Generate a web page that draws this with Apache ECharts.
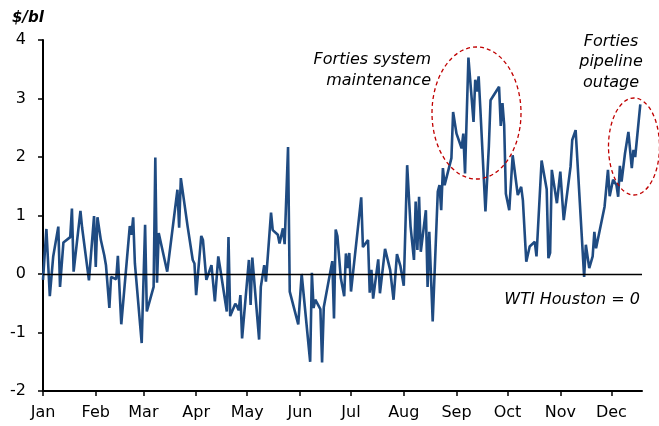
<!DOCTYPE html>
<html>
<head>
<meta charset="utf-8">
<script src="https://cdn.jsdelivr.net/npm/echarts@6/dist/echarts.min.js"></script>
<style>
  html, body { margin: 0; padding: 0; background: #fff; }
  #chart { width: 659px; height: 426px; }
</style>
</head>
<body>
<div id="chart"></div>
<script>
const monthLabels = ['Jan', 'Feb', 'Mar', 'Apr', 'May', 'Jun', 'Jul', 'Aug', 'Sep', 'Oct', 'Nov', 'Dec']
const yMin = -2
const yMax = 4
const lastDay = 352

// day offset from 1 Jan, and the Brent-WTI Houston spread ($/bl) on that day
const days = [
  0, 2, 4, 5, 6, 9, 10, 12, 16, 17, 18, 22, 23, 24, 27, 30,
  31, 32, 34, 36, 37, 38, 39, 40, 43, 44, 46, 51, 52, 53, 54, 58,
  60, 61, 65, 66, 67, 68, 73, 79, 80, 81, 85, 86, 88, 89,
  90, 93, 94, 96, 99, 100, 101, 103, 104, 108, 109, 110, 113, 114, 115, 116, 117,
  121, 122, 123, 127, 128, 129, 130, 131, 134, 135, 138, 139, 141, 142, 144, 145, 150,
  151, 152, 157, 158, 159, 160, 163, 164, 165, 166, 170, 171, 172, 173, 175, 177, 178, 179, 180,
  181, 187, 188, 191, 192, 193, 194, 197, 198, 201, 204, 206, 208, 210,
  212, 214, 216, 218, 219, 220, 221, 222, 225, 226, 227, 229, 232, 233, 234, 235, 236, 238, 240, 241,
  243, 246, 247, 248, 250, 253, 254, 255, 256, 257, 260, 262, 263, 268, 269, 270,
  271, 272, 274, 276, 277, 279, 281, 282, 284, 286, 289, 290, 293, 296, 297, 298, 299, 302,
  304, 306, 310, 311, 312, 313, 318, 319, 320, 321, 323, 324, 325, 330, 332, 333,
  335, 337, 338, 339, 340, 342, 344, 346, 347, 348, 351
]
const spread = [
  -0.1, 0.77, -0.38, -0.38, 0.3, 0.81, -0.22, 0.54, 0.63, 1.12, 0.04, 1.08, 0.79, 0.79, -0.11, 0.99,
  0.12, 0.97, 0.58, 0.32, 0.15, 0.15, -0.58, -0.05, -0.09, 0.31, -0.86, 0.82, 0.67, 0.97, 0.18, -1.18,
  0.84, -0.64, -0.22, 1.99, -0.15, 0.7, 0.04, 1.44, 0.79, 1.64, 0.81, 0.79, 0.24, 0.18,
  -0.36, 0.65, 0.58, -0.1, 0.15, 0.15, -0.47, 0.3, 0.12, -0.64, 0.63, -0.72, -0.51, -0.55, -0.62, -0.36, -1.1,
  0.24, -0.53, 0.28, -1.12, -0.22, -0.2, 0.15, -0.13, 1.05, 0.75, 0.67, 0.52, 0.78, 0.51, 2.17, -0.3, -0.86,
  -0.83, 0.0, -1.5, 0.02, -0.58, -0.44, -0.6, -1.51, -0.57, -0.55, 0.22, -0.76, 0.76, 0.65, -0.07, -0.38, 0.35, 0.1, 0.36,
  -0.3, 1.31, 0.46, 0.58, -0.32, 0.07, -0.42, 0.25, -0.33, 0.43, 0.07, -0.44, 0.34, 0.14,
  -0.2, 1.86, 0.81, 0.24, 1.24, 0.41, 1.32, 0.38, 1.09, -0.22, 0.72, -0.81, 1.41, 1.52, 1.09, 1.81, 1.52, 1.75, 1.98, 2.77,
  2.4, 2.15, 2.4, 1.72, 3.7, 2.6, 3.32, 3.12, 3.38, 2.83, 1.07, 2.18, 2.97, 3.2, 2.53, 2.92,
  2.55, 1.37, 1.09, 2.03, 2.03, 1.35, 1.49, 1.26, 0.21, 0.47, 0.55, 0.3, 1.94, 1.45, 0.27, 0.36, 1.78, 1.21,
  1.75, 0.92, 1.83, 2.29, 2.27, 2.46, -0.05, 0.5, 0.48, 0.1, 0.3, 0.72, 0.44, 1.15, 1.78, 1.33,
  1.61, 1.52, 1.32, 1.85, 1.58, 2.06, 2.43, 1.81, 2.12, 2.0, 2.9
]

// one category per calendar day, "month-date"
const dates = []
for (let i = 0; i <= lastDay; i++) {
  const d = new Date(2017, 0, 1 + i)
  dates.push(d.getMonth() + '-' + d.getDate())
}
const isMonthStart = (idx, val) => val.split('-')[1] === '1'

const font = '"DejaVu Sans", Verdana, sans-serif'
const chart = echarts.init(document.getElementById('chart'))

const option = {
  animation: false,
  grid: { left: 43, right: 17, top: 40, bottom: 35 },
  xAxis: {
    type: 'category',
    data: dates,
    boundaryGap: false,
    axisLine: { onZero: false, lineStyle: { color: '#000', width: 2 } },
    axisTick: { interval: isMonthStart, length: 5, lineStyle: { color: '#000', width: 1.5 } },
    axisLabel: {
      interval: isMonthStart,
      formatter: (val) => monthLabels[+val.split('-')[0]],
      color: '#000',
      fontSize: 16,
      fontFamily: font,
      margin: 14
    },
    splitLine: { show: false }
  },
  yAxis: {
    type: 'value',
    min: yMin,
    max: yMax,
    interval: 1,
    axisLine: { show: true, lineStyle: { color: '#000', width: 2 } },
    axisTick: { show: true, length: 5, lineStyle: { color: '#000', width: 1.5 } },
    axisLabel: { color: '#000', fontSize: 16, fontFamily: font, margin: 17 },
    splitLine: { show: false }
  },
  series: [
    {
      type: 'line',
      data: days.map((d, i) => [d, spread[i]]),
      showSymbol: false,
      symbol: 'none',
      lineStyle: { color: '#1f4b82', width: 2.6 },
      markLine: {
        silent: true,
        symbol: 'none',
        label: { show: false },
        lineStyle: { color: '#000', width: 1.3, type: 'solid' },
        data: [{ yAxis: 0 }]
      }
    }
  ],
  graphic: [
    {
      type: 'text',
      left: 12,
      top: 11,
      style: { text: '$/bl', font: 'italic bold 15px ' + font, fill: '#000' }
    },
    {
      type: 'text',
      x: 431,
      y: 70.5,
      style: {
        text: 'Forties system\nmaintenance',
        font: 'italic 16px ' + font,
        fill: '#000',
        align: 'right',
        verticalAlign: 'middle',
        lineHeight: 21
      }
    },
    {
      type: 'text',
      x: 611,
      y: 62,
      style: {
        text: 'Forties\npipeline\noutage',
        font: 'italic 16px ' + font,
        fill: '#000',
        align: 'center',
        verticalAlign: 'middle',
        lineHeight: 20.5
      }
    },
    {
      type: 'text',
      x: 640,
      y: 300,
      style: {
        text: 'WTI Houston = 0',
        font: 'italic 16px ' + font,
        fill: '#000',
        align: 'right',
        verticalAlign: 'middle'
      }
    },
    {
      type: 'ellipse',
      shape: { cx: 476.5, cy: 113, rx: 44.5, ry: 66 },
      style: { fill: 'none', stroke: '#c00000', lineWidth: 1.3, lineDash: [4, 3] },
      z: 10
    },
    {
      type: 'ellipse',
      shape: { cx: 634, cy: 146.5, rx: 25.5, ry: 48.5 },
      style: { fill: 'none', stroke: '#c00000', lineWidth: 1.3, lineDash: [4, 3] },
      z: 10
    }
  ]
}

chart.setOption(option)
</script>
</body>
</html>
